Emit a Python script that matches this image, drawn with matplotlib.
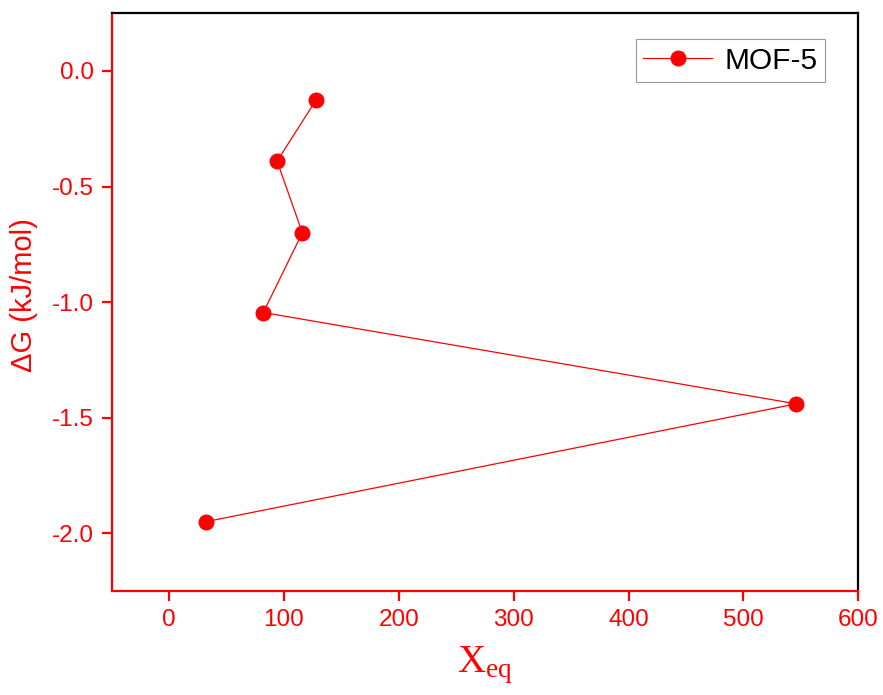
import matplotlib
matplotlib.use("Agg")
import matplotlib.pyplot as plt

x_eq = [128, 94, 116, 82, 546, 32]
delta_g = [-0.125, -0.39, -0.70, -1.045, -1.44, -1.95]
series_label = "MOF-5"
x_ticks = [0, 100, 200, 300, 400, 500, 600]
y_ticks = [0.0, -0.5, -1.0, -1.5, -2.0]

plt.rcParams['font.family'] = ['Liberation Sans', 'DejaVu Sans']
plt.rcParams['mathtext.fontset'] = 'custom'
plt.rcParams['mathtext.rm'] = 'Liberation Serif'
plt.rcParams['mathtext.it'] = 'Liberation Serif:italic'

RED = '#ff0000'
fig = plt.figure(figsize=(8.83, 6.95), dpi=100)
ax = fig.add_axes([0.1265, 0.1496, 0.972 - 0.1265, 0.981 - 0.1496])

ax.plot(x_eq, delta_g, color=RED, lw=0.9, marker='o', ms=10.5,
        markerfacecolor=RED, markeredgecolor=RED, label=series_label)

ax.set_xlim(-50, 600)
ax.set_ylim(-2.25, 0.25)
ax.set_xticks(x_ticks)
ax.set_yticks(y_ticks)
ax.set_xticklabels([str(v) for v in x_ticks])
ax.set_yticklabels([f"{v:.1f}" for v in y_ticks])

for s in ['left', 'bottom']:
    ax.spines[s].set_color(RED)
    ax.spines[s].set_linewidth(1.6)
for s in ['top', 'right']:
    ax.spines[s].set_color('black')
    ax.spines[s].set_linewidth(1.6)

ax.tick_params(axis='both', colors=RED, labelsize=17.5, length=7, width=1.6,
               direction='out', pad=6)

ax.set_xlabel(r'$\mathrm{X_{eq}}$', color=RED, fontsize=28, labelpad=10)
ax.set_ylabel('ΔG (kJ/mol)', color=RED, fontsize=21)
ax.yaxis.set_label_coords(-0.099, 0.512)

leg = ax.legend(loc='upper right', bbox_to_anchor=(0.955, 0.955), fontsize=21.5,
                frameon=True, fancybox=False, handlelength=2.3,
                borderpad=0.25, handletextpad=0.4, borderaxespad=0)
leg.get_frame().set_edgecolor('#808080')
leg.get_frame().set_linewidth(0.8)

fig.savefig('out.png', dpi=100)
